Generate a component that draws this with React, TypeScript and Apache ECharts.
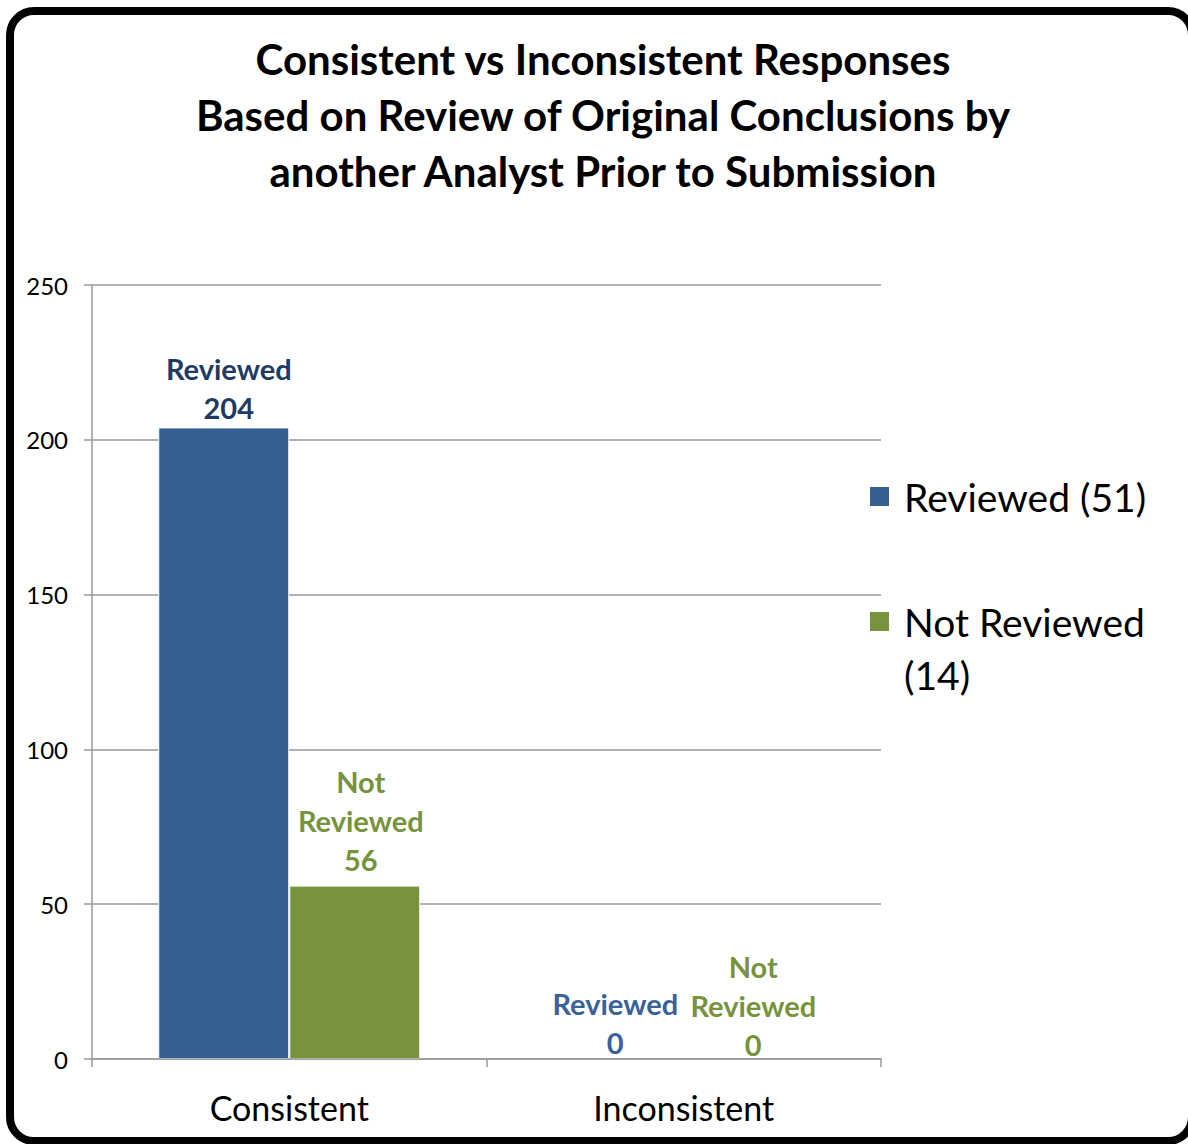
import React, { useEffect, useRef } from "react";
import * as echarts from "echarts";

const titleLines = [
  "Consistent vs Inconsistent Responses",
  "Based on Review of Original Conclusions by",
  "another Analyst Prior to Submission",
];
const categories = ["Consistent", "Inconsistent"];
const seriesNames = ["Reviewed (51)", "Not Reviewed (14)"];
const labelNames = ["Reviewed", "Not\nReviewed"];
const reviewedValues = [204, 0];
const notReviewedValues = [56, 0];
const yTicks = [0, 50, 100, 150, 200, 250];

const BLUE = "#376092";
const GREEN = "#77933C";
const FONT = "Lato, 'Noto Sans', sans-serif";

export default function App() {
  const ref = useRef<HTMLDivElement>(null);
  useEffect(() => {
    if (!ref.current) return;
    const chart = echarts.init(ref.current, null, { renderer: "svg" });
    const labelBase = {
      show: true,
      position: "top" as const,
      distance: 3,
      fontFamily: FONT,
      fontWeight: "bold" as const,
      fontSize: 29,
      lineHeight: 39,
      align: "center" as const,
    };
    const mk = (vals: number[], idx: number, colors: string[], offsets: number[][]) =>
      vals.map((v, i) => ({
        value: v,
        itemStyle: { borderWidth: v === 0 ? 0 : 1 },
        label: {
          ...labelBase,
          color: colors[i],
          offset: offsets[i],
          formatter: labelNames[idx] + "\n" + v,
        },
      }));
    const legendText = {
      fontFamily: FONT,
      fontSize: 39,
      color: "#000",
      lineHeight: 53,
      rich: { a: { fontFamily: FONT, fontSize: 39, color: "#000", lineHeight: 53, padding: [0, 0, 0, 9] } },
    };
    chart.setOption({
      animation: false,
      backgroundColor: "#fff",
      textStyle: { fontFamily: FONT },
      title: {
        text: titleLines.join("\n"),
        left: 598,
        textAlign: "center",
        top: 26,
        textStyle: {
          fontFamily: FONT,
          fontWeight: "bold",
          fontSize: 42,
          lineHeight: 56,
          color: "#000",
        },
      },
      legend: [
        {
          data: [seriesNames[0]],
          left: 868,
          top: 470,
          padding: 0,
          icon: "rect",
          itemWidth: 21,
          itemHeight: 21,
          formatter: (n: string) => "{a|" + n + "}",
          textStyle: legendText,
        },
        {
          data: [seriesNames[1]],
          left: 868,
          top: 542,
          padding: 0,
          icon: "rect",
          itemWidth: 21,
          itemHeight: 21,
          formatter: (n: string) => {
            const [a, b] = n.split(" (");
            return "{a| }\n{a|" + a + "}\n{a|(" + b + "}";
          },
          textStyle: legendText,
        },
      ],
      grid: { left: 92, right: 307, top: 285, bottom: 85 },
      xAxis: {
        type: "category",
        data: categories,
        z: 5,
        axisLine: { show: true, lineStyle: { color: "#999", width: 1.5 } },
        axisTick: { show: true, length: 8, lineStyle: { color: "#999", width: 1.5 } },
        axisLabel: { fontFamily: FONT, fontSize: 34, color: "#000", margin: 31 },
      },
      yAxis: {
        type: "value",
        min: yTicks[0],
        max: yTicks[yTicks.length - 1],
        interval: 50,
        axisLine: { show: true, lineStyle: { color: "#999", width: 1.5 } },
        axisTick: { show: true, length: 8, lineStyle: { color: "#999", width: 1.5 } },
        axisLabel: { fontFamily: FONT, fontSize: 24, color: "#000", margin: 24 },
        splitLine: { show: true, lineStyle: { color: "#999", width: 1.5 } },
      },
      series: [
        {
          name: seriesNames[0],
          type: "bar",
          barWidth: 131,
          barGap: "0%",
          itemStyle: { color: BLUE, borderColor: "#fff", borderWidth: 1 },
          data: mk(reviewedValues, 0, ["#1F3B64", "#3A6298"], [[5, 3], [-3, 6]]),
        },
        {
          name: seriesNames[1],
          type: "bar",
          barWidth: 131,
          barGap: "0%",
          itemStyle: { color: GREEN, borderColor: "#fff", borderWidth: 1 },
          data: mk(notReviewedValues, 1, [GREEN, GREEN], [[6, -4], [4, 8]]),
        },
      ],
      graphic: [
        {
          type: "rect",
          z: 100,
          silent: true,
          shape: { x: 10, y: 11, width: 1182, height: 1130, r: 24 },
          style: { fill: "none", stroke: "#000", lineWidth: 8 },
        },
      ],
    });
    return () => chart.dispose();
  }, []);
  return (
    <div
      ref={ref}
      style={{ position: "fixed", left: 0, top: 0, width: 1188, height: 1144 }}
    />
  );
}
